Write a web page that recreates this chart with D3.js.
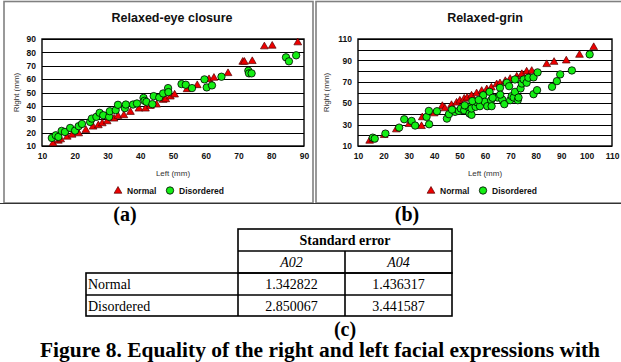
<!DOCTYPE html>
<html><head><meta charset="utf-8">
<script src="https://cdn.jsdelivr.net/npm/d3@7"></script>
<style>body{margin:0;background:#fff}svg{display:block}</style>
</head><body>
<svg id="c" width="621" height="362"></svg>
<script>
// ---------- DATA ----------
const titleA = "Relaxed-eye closure";
const titleB = "Relaxed-grin";
const xLabel = "Left (mm)";
const yLabel = "Right (mm)";
const seriesNames = ["Normal", "Disordered"];

const ticksA = [10,20,30,40,50,60,70,80,90];
const xTicksB = [10,20,30,40,50,60,70,80,90,100,110];
const yTickLabelsB = [10,30,50,70,90,110];
const yGridB = [10,20,30,40,50,60,70,80,90,100,110];

// panel (a) [left, right]
const normalA = [[13.4,11.8],[15,13.8],[15.7,14.8],[17.7,16.8],[19.2,18.3],[21.2,19.3],[23.4,21.8],[25.6,24.3],
 [27.2,25.3],[28.4,26.8],[29.9,28.3],[32,30.3],[33.2,32.3],[35,32.8],[37,35.3],[39.6,37.8],[41.6,37.8],[43.1,39.8],
 [45,40.8],[47,44.3],[47.8,44.8],[49.2,46.8],[50.5,48.3],[54.3,52.3],[57.4,55.3],[61,59.8],[62.5,60.8],[66.8,64.3],
 [71.3,72.8],[71.8,72.8],[74.2,73.3],[77.9,84.3],[80.3,84.8],[88.1,87.3]];
const disorderedA = [[13,16],[14.2,18],[15,16.8],[16,21.3],[17,20.5],[18.6,23.5],[20.1,21.5],[21.2,24.8],[22.2,26.5],
 [24.7,28],[25.2,30.5],[26.6,31.8],[27.6,34.8],[28.7,33],[30.5,31.8],[30.7,36],[32.5,36.8],[33.2,40.8],[35.3,38.3],
 [35.6,41],[37.8,41],[39,41.8],[41,46],[41.3,43.8],[41.9,43],[43.7,41.3],[44.1,47.3],[45.8,46.3],[47,49.3],[48.5,53.3],
 [48.6,50.3],[52.6,56.3],[53.9,55.8],[55.8,53.3],[59.6,59.8],[60.3,53.8],[61.9,55.3],[64.8,61.8],[73,66.3],[73.2,64.3],
 [74,64.3],[84.5,76.3],[85.4,73.3],[87.6,77.8]];

// panel (b)
const normalB = [[14.6,14.7],[15.9,16],[20.3,20],[25.1,25.3],[30.1,30.3],[35,28.4],[35.3,36.6],[40,40.3],[43.2,47.2],
 [44.2,45],[46.8,48.1],[48.8,50.3],[50.1,52.2],[51.8,54],[53,55],[54.7,56.9],[56.7,59],[58.7,61.3],[60.7,62.8],
 [62.5,64.5],[64.6,67.5],[65.9,68.4],[68,70.5],[69.9,72.5],[72.5,74.7],[74.5,77],[76.4,79.4],[78.4,80],[84.3,86.3],
 [87.2,88.4],[92,89.7],[97.2,95],[102.8,102.2]];
const disorderedB = [[15.8,17.8],[16.6,16.9],[20.8,21.6],[26.2,27.2],[28.2,35],[31.1,33.4],[32.5,29.1],[37,37.2],
 [37.9,42.8],[38,30.3],[41.1,42.5],[45,35.6],[45.8,39.7],[48.2,41.9],[49.7,42.8],[50.5,45],[51.8,43.4],[53.4,46.6],
 [53.9,40.3],[54.7,39.1],[54.7,45],[56.3,46.6],[56.8,50.9],[58,47.2],[59.3,57.5],[59.9,51.3],[60.9,47.2],[61.8,60.6],
 [62.4,52.8],[62.6,47.2],[64.9,55.3],[65.9,64.4],[66.8,53.4],[67.6,49.1],[68.6,69.1],[69.5,65.9],[69.9,52.8],
 [70.5,56.6],[71.3,55.3],[71.8,72.2],[71.8,60.6],[72.9,52.8],[73.2,55.3],[74,63.8],[74.5,68.4],[75.2,72.2],
 [76.4,69.1],[77.1,73.8],[79.1,74.1],[79.1,58.4],[80.5,62.2],[80.7,78.8],[86.4,65.3],[88.3,70.6],[89.6,76.9],
 [94.2,80.6],[101.2,95.6],[47,44],[52,48],[55,52],[57.5,53],[63,55],[66,58]];

// table
const tableTitle = "Standard error";
const tableCols = ["A02", "A04"];
const tableRows = ["Normal", "Disordered"];
const seA02 = ["1.342822", "2.850067"];
const seA04 = ["1.436317", "3.441587"];
const panelLabels = ["(a)", "(b)", "(c)"];
const caption = "Figure 8. Equality of the right and left facial expressions with";

// ---------- DRAW ----------
const svg = d3.select("#c");
svg.append("rect").attr("width",621).attr("height",362).attr("fill","#fff");
const SANS = "'Liberation Sans', Arial, sans-serif";
const SERIF = "'Liberation Serif', 'Times New Roman', serif";

// panel frames
svg.append("rect").attr("x",4).attr("y",1.5).attr("width",309).attr("height",201.5)
  .attr("fill","none").attr("stroke","#808080").attr("stroke-width",1.6);
svg.append("rect").attr("x",316).attr("y",1.5).attr("width",310).attr("height",201.5)
  .attr("fill","none").attr("stroke","#808080").attr("stroke-width",1.6);
svg.append("line").attr("x1",0).attr("x2",621).attr("y1",203.5).attr("y2",203.5)
  .attr("stroke","#333").attr("stroke-width",1);

function panel(o){
  const g = svg.append("g");
  const x = d3.scaleLinear().domain(o.xd).range([o.x0,o.x1]);
  const y = d3.scaleLinear().domain(o.yd).range([o.y1,o.y0]);
  g.selectAll(".gl").data(o.yGrid).join("line")
    .attr("x1",o.x0).attr("x2",o.x1).attr("y1",d=>Math.round(y(d))+0.5).attr("y2",d=>Math.round(y(d))+0.5)
    .attr("stroke","#000").attr("stroke-width",1);
  const xa = d3.axisBottom(x).tickValues(o.xTicks).tickSize(0).tickPadding(7);
  const ya = d3.axisLeft(y).tickValues(o.yTicks).tickSize(0).tickPadding(6);
  const gx = g.append("g").attr("transform",`translate(0,${o.y1})`).call(xa);
  const gy = g.append("g").attr("transform",`translate(${o.x0},0)`).call(ya);
  [gx,gy].forEach(a=>{
    a.select(".domain").remove();
    a.selectAll("text").attr("font-family",SANS).attr("font-size",8.5).attr("font-weight","bold").attr("fill","#111");
  });
  g.append("rect").attr("x",o.x0).attr("y",o.y0).attr("width",o.x1-o.x0).attr("height",o.y1-o.y0)
    .attr("fill","none").attr("stroke","#000").attr("stroke-width",1.4);
  const tri = d3.symbol().type(d3.symbolTriangle).size(26);
  g.selectAll(".n").data(o.normal).join("path")
    .attr("d",tri).attr("transform",d=>`translate(${x(d[0])},${y(d[1])})`)
    .attr("fill","#ee0000").attr("stroke","#500").attr("stroke-width",0.7);
  g.selectAll(".d").data(o.dis).join("circle")
    .attr("cx",d=>x(d[0])).attr("cy",d=>y(d[1])).attr("r",3.7)
    .attr("fill","#14ee14").attr("stroke","#000").attr("stroke-width",0.8);
  g.append("text").attr("x",o.tx).attr("y",22).attr("text-anchor","middle")
    .attr("font-family",SANS).attr("font-size",12.5).attr("font-weight","bold").attr("fill","#111").text(o.title);
  g.append("text").attr("x",(o.x0+o.x1)/2).attr("y",176).attr("text-anchor","middle")
    .attr("font-family",SANS).attr("font-size",8).attr("fill","#333").text(xLabel);
  g.append("text").attr("transform",`translate(${o.ylx},${(o.y0+o.y1)/2}) rotate(-90)`).attr("text-anchor","middle")
    .attr("font-family",SANS).attr("font-size",8).attr("fill","#333").text(yLabel);
  const ly = 191;
  g.append("path").attr("d",d3.symbol().type(d3.symbolTriangle).size(26)).attr("transform",`translate(${o.lx},${ly})`)
    .attr("fill","#ee0000").attr("stroke","#500").attr("stroke-width",0.7);
  g.append("text").attr("x",o.lx+9).attr("y",ly+3).attr("font-family",SANS).attr("font-size",8.5)
    .attr("font-weight","bold").attr("fill","#111").text(seriesNames[0]);
  g.append("circle").attr("cx",o.lx+52).attr("cy",ly-0.5).attr("r",3.7)
    .attr("fill","#14ee14").attr("stroke","#000").attr("stroke-width",0.8);
  g.append("text").attr("x",o.lx+61).attr("y",ly+3).attr("font-family",SANS).attr("font-size",8.5)
    .attr("font-weight","bold").attr("fill","#111").text(seriesNames[1]);
}

panel({x0:42,x1:304,y0:39,y1:146,xd:[10,90],yd:[10,90],xTicks:ticksA,yTicks:ticksA,yGrid:ticksA,
  normal:normalA,dis:disorderedA,title:titleA,tx:172,ylx:19,lx:118});
panel({x0:358,x1:612,y0:39,y1:146,xd:[10,110],yd:[10,110],xTicks:xTicksB,yTicks:yTickLabelsB,yGrid:yGridB,
  normal:normalB,dis:disorderedB,title:titleB,tx:485,ylx:329,lx:431});

const lab = (t,x,y)=>svg.append("text").attr("x",x).attr("y",y).attr("text-anchor","middle")
  .attr("font-family",SERIF).attr("font-size",20).attr("font-weight","bold").attr("fill","#000").text(t);
lab(panelLabels[0],125,221);
lab(panelLabels[1],407,221);
lab(panelLabels[2],345,336);

// table
const tx0=86, tc1=238, tc2=345, tx1=452;
const ty = [229,251,273,295,316];
const tg = svg.append("g").attr("stroke","#000").attr("stroke-width",1.6).attr("fill","none");
tg.append("rect").attr("x",tc1).attr("y",ty[0]).attr("width",tx1-tc1).attr("height",ty[2]-ty[0]);
tg.append("line").attr("x1",tc1).attr("x2",tx1).attr("y1",ty[1]).attr("y2",ty[1]);
tg.append("line").attr("x1",tc2).attr("x2",tc2).attr("y1",ty[1]).attr("y2",ty[4]);
tg.append("rect").attr("x",tx0).attr("y",ty[2]).attr("width",tx1-tx0).attr("height",ty[4]-ty[2]);
tg.append("line").attr("x1",tx0).attr("x2",tx1).attr("y1",ty[3]).attr("y2",ty[3]);
tg.append("line").attr("x1",tc1).attr("x2",tc1).attr("y1",ty[2]).attr("y2",ty[4]);

const tt = (t,x,y,anchor,opts={})=>svg.append("text").attr("x",x).attr("y",y).attr("text-anchor",anchor)
  .attr("font-family",SERIF).attr("font-size",14).attr("fill","#000")
  .attr("font-weight",opts.bold?"bold":"normal").attr("font-style",opts.italic?"italic":"normal").text(t);
tt(tableTitle,(tc1+tx1)/2,ty[0]+16,"middle",{bold:true});
tt(tableCols[0],(tc1+tc2)/2,ty[1]+16,"middle",{italic:true});
tt(tableCols[1],(tc2+tx1)/2,ty[1]+16,"middle",{italic:true});
tableRows.forEach((r,i)=>{
  tt(r,tx0+2,ty[2+i]+16,"start");
  tt(seA02[i],(tc1+tc2)/2,ty[2+i]+16,"middle");
  tt(seA04[i],(tc2+tx1)/2,ty[2+i]+16,"middle");
});

// caption
svg.append("text").attr("x",40).attr("y",357).attr("font-family",SERIF).attr("font-size",20)
  .attr("font-weight","bold").attr("fill","#000").attr("textLength",560).attr("lengthAdjust","spacingAndGlyphs")
  .text(caption);
</script>
</body></html>
